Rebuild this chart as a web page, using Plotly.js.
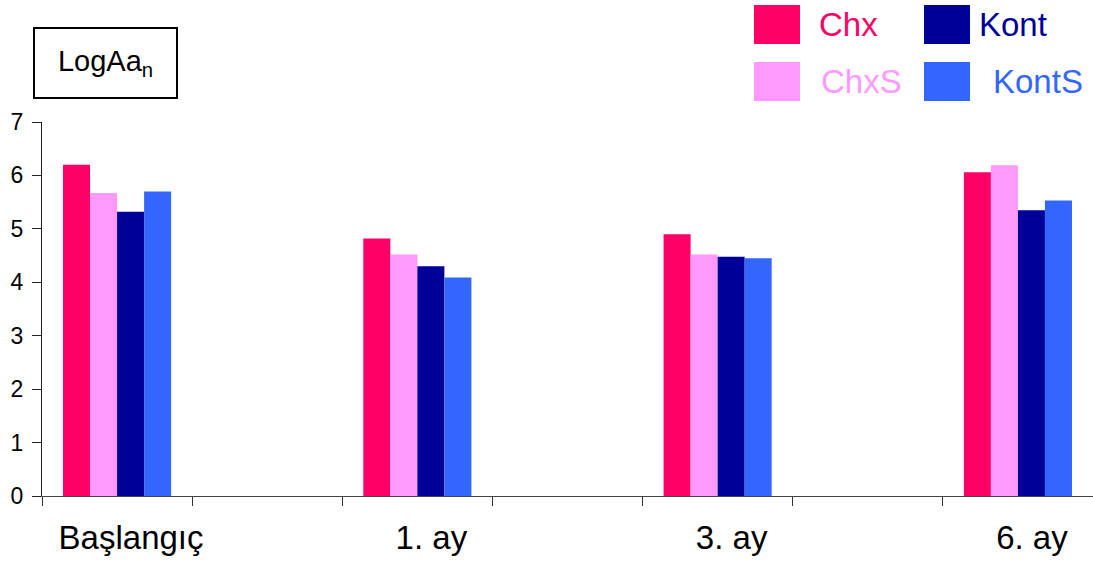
<!DOCTYPE html>
<html>
<head>
<meta charset="utf-8">
<script src="https://cdn.plot.ly/plotly-3.0.1.min.js"></script>
<style>
  html, body { margin: 0; padding: 0; background: #ffffff; }
  #chart { width: 1093px; height: 562px; }
</style>
</head>
<body>
<div id="chart"></div>
<script>
// Measurement periods
const periods = ['Başlangıç', '1. ay', '3. ay', '6. ay'];
// Slot index of each period on the x axis (empty slots sit between them)
const periodSlots = [0, 2, 4, 6];

// LogAa_n values per group
const chx   = [6.20, 4.82, 4.90, 6.06];
const chxS  = [5.67, 4.52, 4.52, 6.19];
const kont  = [5.32, 4.30, 4.48, 5.35];
const kontS = [5.70, 4.09, 4.45, 5.53];

const seriesNames  = ['Chx', 'ChxS', 'Kont', 'KontS'];
const seriesValues = [chx, chxS, kont, kontS];
const seriesColors = ['#FF0066', '#FF99FF', '#000099', '#3366FF'];

const yTicks = [0, 1, 2, 3, 4, 5, 6, 7];

const FONT = '"Liberation Sans", Arial, Helvetica, sans-serif';
const W = 1093, H = 562;
const M = { l: 42, r: 0, t: 122, b: 66 };
const plotW = W - M.l - M.r, plotH = H - M.t - M.b;
// pixel -> paper coordinate helpers for the decorations outside the plot area
const px = x => (x - M.l) / plotW;
const py = y => (H - M.b - y) / plotH;

const traces = seriesNames.map((name, i) => ({
  type: 'bar',
  name: name,
  x: periodSlots,
  y: seriesValues[i],
  marker: { color: seriesColors[i], line: { width: 0 } },
  showlegend: false,
  hovertemplate: name + ': %{y}<extra></extra>'
}));

// Hand-built 2x2 legend with large colour swatches
const legendCols = [754, 924];
const legendRows = [5, 62];
const swatchW = 46, swatchH = 39;
const labelLeft = [817, 819, 977, 991];

const shapes = [];
const annotations = [];
seriesNames.forEach((name, i) => {
  const col = Math.floor(i / 2), row = i % 2;
  const x0 = legendCols[col], y0 = legendRows[row];
  shapes.push({
    type: 'rect', xref: 'paper', yref: 'paper',
    x0: px(x0), x1: px(x0 + swatchW), y0: py(y0 + swatchH), y1: py(y0),
    fillcolor: seriesColors[i], line: { width: 0 }
  });
  annotations.push({
    xref: 'paper', yref: 'paper',
    x: px(labelLeft[i]), y: py(y0 + 19),
    xanchor: 'left', yanchor: 'middle',
    text: name, showarrow: false,
    font: { family: FONT, size: 33, color: seriesColors[i] }
  });
});

// Boxed axis label
annotations.push({
  xref: 'paper', yref: 'paper',
  x: px(105.5), y: py(63),
  xanchor: 'center', yanchor: 'middle',
  text: 'LogAa<sub>n</sub>', showarrow: false,
  width: 141, height: 68,
  bordercolor: '#000000', borderwidth: 2, borderpad: 0,
  font: { family: FONT, size: 29, color: '#000000' }
});

const layout = {
  width: W, height: H,
  margin: M,
  paper_bgcolor: '#ffffff',
  plot_bgcolor: '#ffffff',
  barmode: 'group',
  bargap: 0.64,
  bargroupgap: 0,
  showlegend: false,
  font: { family: FONT, color: '#000000' },
  xaxis: {
    range: [-0.5, 6.5],
    tickmode: 'array',
    tickvals: periodSlots,
    ticktext: periods,
    ticks: '',
    ticklabelshift: 14,
    ticklabelstandoff: 12,
    tickfont: { family: FONT, size: 33, color: '#000000' },
    minor: {
      tickmode: 'linear', tick0: 0.5, dtick: 1,
      ticks: 'outside', ticklen: 9, tickwidth: 1, tickcolor: '#333333',
      showgrid: false
    },
    showline: true, linecolor: '#444444', linewidth: 1,
    showgrid: false, zeroline: false, fixedrange: true
  },
  yaxis: {
    range: [0, 7],
    tickmode: 'array',
    tickvals: yTicks,
    ticks: 'outside', ticklen: 9, tickwidth: 1, tickcolor: '#222222',
    ticklabelstandoff: 4,
    tickfont: { family: FONT, size: 23, color: '#000000' },
    showline: true, linecolor: '#222222', linewidth: 1,
    showgrid: false, zeroline: false, fixedrange: true
  },
  shapes: shapes,
  annotations: annotations
};

Plotly.newPlot('chart', traces, layout, { displayModeBar: false, staticPlot: true });
</script>
</body>
</html>
